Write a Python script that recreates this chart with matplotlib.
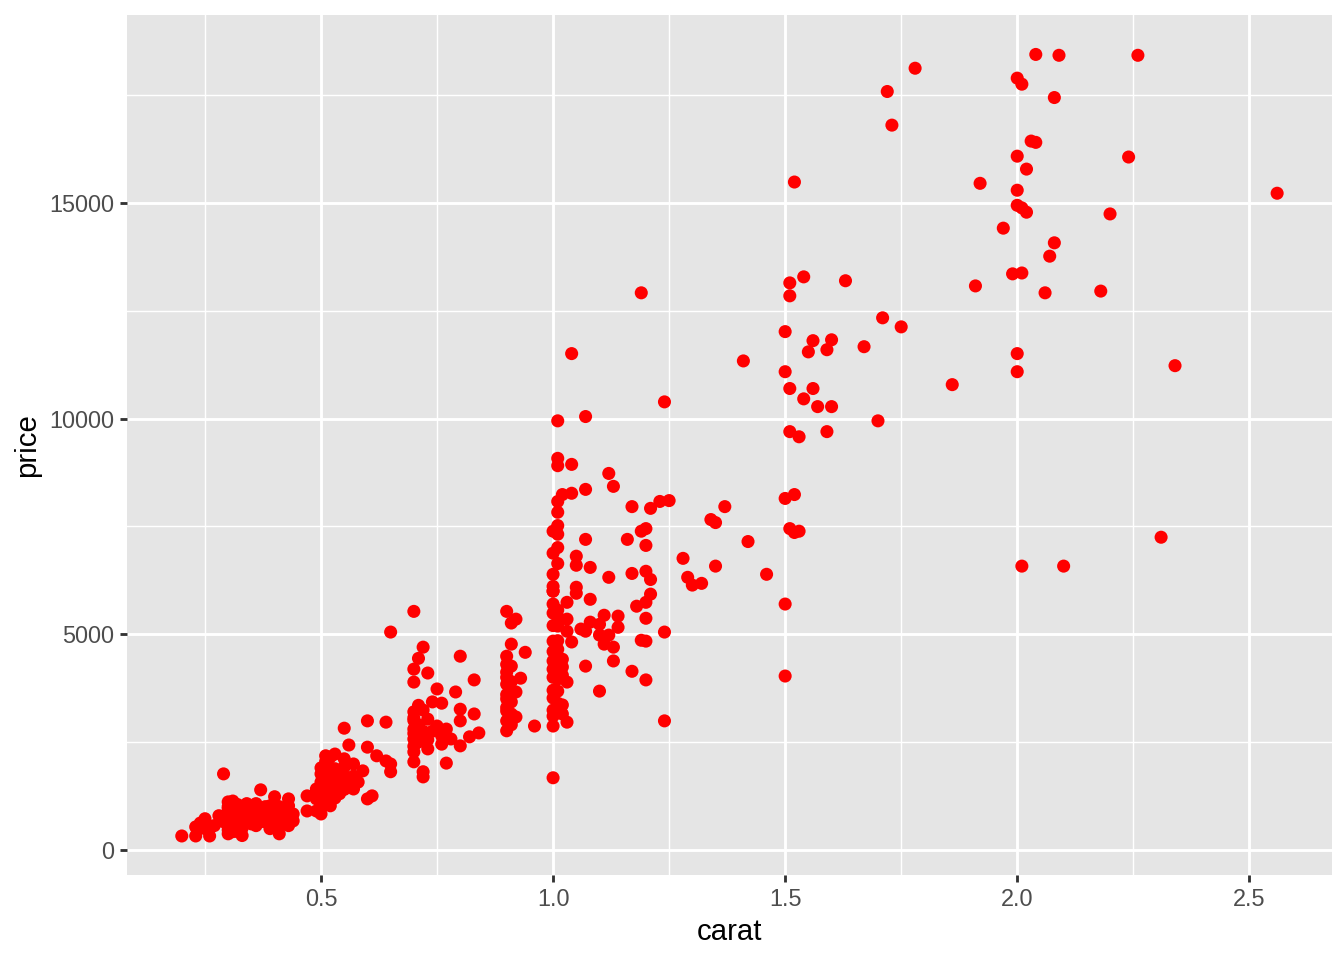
import numpy as np
import matplotlib
matplotlib.use("Agg")
import matplotlib.pyplot as plt

# carat / price values, grouped roughly by region
carat_top = [2.04, 2.09, 2.26, 1.78, 2.00, 2.01, 1.72, 2.08, 1.73, 2.03, 2.04, 2.00,
             2.24, 2.02, 1.52, 1.92, 2.56, 2.00, 2.00, 2.01, 2.02, 2.20, 1.97, 2.08,
             2.07, 1.91, 2.06, 2.18, 1.99, 2.01, 1.19, 2.00, 2.00, 2.34, 1.86, 1.24,
             1.04, 1.41, 1.70, 1.01, 1.07, 2.31, 2.01, 2.10, 1.50, 1.50]
price_top = [18450, 18430, 18430, 18130, 17900, 17760, 17590, 17450, 16810, 16440, 16410, 16090,
             16070, 15790, 15490, 15460, 15230, 15300, 14950, 14890, 14790, 14750, 14420, 14080,
             13770, 13080, 12920, 12960, 13360, 13380, 12920, 11510, 11090, 11230, 10790, 10390,
             11510, 11340, 9950, 9950, 10050, 7250, 6580, 6580, 4030, 5700]

carat_15 = [1.51, 1.54, 1.63, 1.51, 1.71, 1.75, 1.50, 1.56, 1.60, 1.55, 1.59, 1.67,
            1.50, 1.51, 1.56, 1.54, 1.57, 1.60, 1.51, 1.53, 1.59]
price_15 = [13150, 13290, 13200, 12850, 12340, 12130, 12020, 11810, 11830, 11550, 11600, 11670,
            11090, 10700, 10700, 10460, 10280, 10280, 9700, 9580, 9700]

carat_12 = [1.21, 1.23, 1.25, 1.37, 1.34, 1.35, 1.20, 1.20, 1.51, 1.52, 1.53, 1.50,
            1.52, 1.42, 1.28, 1.35, 1.46, 1.29, 1.30, 1.32, 1.20, 1.21, 1.21, 1.20,
            1.20, 1.24]
price_12 = [7920, 8080, 8100, 7960, 7660, 7590, 7450, 7060, 7450, 7360, 7390, 8150,
            8240, 7150, 6760, 6580, 6390, 6320, 6140, 6180, 6460, 6270, 5930, 5740,
            5370, 5050]

carat_10 = [1.01, 1.01, 1.04, 1.12, 1.13, 1.07, 1.01, 1.02, 1.04, 1.01, 1.17, 1.01,
            1.00, 1.01, 1.07, 1.16, 1.19, 1.01, 1.00, 1.01, 1.05, 1.05, 1.08, 1.00,
            1.00, 1.00, 1.05, 1.05, 1.08, 1.12, 1.17, 1.18, 1.03, 1.00, 1.01, 1.03,
            1.11, 1.14, 1.08, 1.06, 1.07, 1.10, 1.10, 1.14, 1.12, 1.03, 1.01, 1.00,
            1.01, 1.04, 1.11, 1.13, 1.11, 1.19, 1.20, 1.00, 1.02, 1.00, 1.02, 1.07,
            1.13, 1.17, 1.20, 1.01, 1.03, 1.01, 1.00, 1.02, 1.00, 1.02, 1.03, 1.10,
            0.96, 1.00, 1.24, 1.00, 0.94, 0.93,
            1.00, 1.00, 1.01, 1.00, 1.01, 1.00, 1.01, 1.02, 1.00, 1.00, 1.01, 1.00]
price_10 = [9080, 8910, 8940, 8730, 8430, 8360, 8080, 8240, 8270, 7830, 7960, 7520,
            7390, 7320, 7200, 7200, 7390, 7010, 6880, 6640, 6810, 6600, 6550, 6390,
            6110, 6000, 6090, 5950, 5810, 6320, 6410, 5650, 5740, 5490, 5560, 5350,
            5440, 5420, 5280, 5120, 5070, 5230, 4980, 5160, 4980, 5070, 5190, 4840,
            4650, 4820, 4770, 4700, 4930, 4860, 4840, 4380, 4420, 4190, 4240, 4260,
            4380, 4140, 3940, 3960, 3890, 3680, 3520, 3360, 3240, 3150, 2960, 3680,
            2870, 2870, 2990, 1670, 4580, 3980,
            5200, 4600, 4400, 4000, 4850, 3700, 3400, 4050, 3100, 5700, 5400, 6000]

carat_09 = [0.90, 0.91, 0.92, 0.91, 0.90, 0.91, 0.90, 0.90, 0.91, 0.92, 0.90, 0.91,
            0.90, 0.91, 0.92, 0.90, 0.90, 0.84,
            0.90, 0.90, 0.91, 0.90, 0.90, 0.91]
price_09 = [5530, 5260, 5350, 4770, 4490, 4260, 4120, 3840, 3680, 3660, 3500, 3430,
            3220, 3150, 3080, 2990, 2760, 2710,
            3600, 3300, 3900, 4300, 4000, 2900]

carat_07 = [0.70, 0.65, 0.72, 0.71, 0.70, 0.73, 0.70, 0.80, 0.83, 0.75, 0.79, 0.76,
            0.74, 0.72, 0.70, 0.80, 0.80, 0.83, 0.70, 0.73, 0.75, 0.77, 0.70, 0.72,
            0.76, 0.78, 0.80, 0.82, 0.70, 0.73, 0.76, 0.70, 0.77, 0.72, 0.72,
            0.70, 0.71, 0.70, 0.71, 0.72, 0.70, 0.71, 0.73, 0.70, 0.74]
price_07 = [5530, 5050, 4700, 4440, 4190, 4100, 3890, 4490, 3940, 3730, 3660, 3400,
            3430, 3240, 3060, 3260, 2990, 3150, 2800, 3030, 2870, 2800, 2570, 2640,
            2640, 2570, 2410, 2620, 2270, 2340, 2450, 2040, 2010, 1810, 1690,
            2700, 2900, 3200, 2500, 2750, 2400, 3350, 2550, 3000, 2750]

carat_05 = [0.55, 0.60, 0.64, 0.56, 0.60, 0.62, 0.64, 0.65, 0.65, 0.59, 0.51, 0.53,
            0.55, 0.57, 0.51, 0.53, 0.55, 0.50, 0.52, 0.55, 0.57, 0.50, 0.52, 0.54,
            0.57, 0.49, 0.52, 0.54, 0.47, 0.50, 0.52, 0.60, 0.61, 0.50, 0.47, 0.50,
            0.52, 0.58, 0.49, 0.49, 0.49,
            0.50, 0.51, 0.52, 0.51, 0.53, 0.54, 0.50, 0.51, 0.53, 0.55, 0.56, 0.51,
            0.52, 0.50]
price_05 = [2820, 2990, 2960, 2430, 2380, 2180, 2060, 1990, 1810, 1830, 2180, 2220,
            2110, 1990, 1950, 1880, 1920, 1760, 1710, 1710, 1710, 1570, 1480, 1530,
            1410, 1340, 1340, 1300, 1250, 1130, 1180, 1180, 1250, 1000, 900, 830,
            1020, 1570, 1410, 1180, 900,
            1300, 1600, 1900, 1250, 1560, 1750, 1450, 1050, 1200, 1400, 1600, 2050,
            2150, 1900]

carat_03 = [0.20, 0.29, 0.37, 0.23, 0.23, 0.25, 0.25, 0.26, 0.28, 0.30, 0.31, 0.30,
            0.30, 0.30, 0.30, 0.32, 0.32, 0.33, 0.34, 0.34, 0.34, 0.36, 0.36, 0.36,
            0.39, 0.39, 0.39, 0.40, 0.41, 0.41, 0.41, 0.41, 0.43, 0.43, 0.44, 0.44,
            0.43,
            0.31, 0.31, 0.32, 0.33, 0.33, 0.30, 0.31, 0.32, 0.35, 0.35, 0.37, 0.38,
            0.38, 0.40, 0.42, 0.27, 0.24, 0.26, 0.29, 0.30, 0.31, 0.32, 0.33, 0.34,
            0.36, 0.37, 0.30, 0.32,
            0.31, 0.32, 0.33, 0.34, 0.35, 0.31, 0.33, 0.35, 0.30, 0.32, 0.34, 0.36,
            0.38, 0.40, 0.42, 0.39]
price_03 = [320, 1760, 1390, 530, 320, 720, 490, 320, 790, 1110, 1130, 950,
            790, 600, 370, 790, 490, 330, 1070, 880, 650, 1070, 830, 560,
            1020, 720, 490, 1230, 1000, 790, 560, 370, 1180, 1020, 830, 670,
            560,
            650, 900, 1000, 700, 900, 1000, 420, 600, 950, 700, 900, 800,
            1000, 900, 700, 560, 620, 550, 650, 870, 780, 850, 600, 790,
            700, 650, 460, 420,
            1100, 1050, 1000, 950, 850, 550, 500, 600, 700, 740, 720, 850,
            650, 700, 850, 610]

carat = np.array(carat_top + carat_15 + carat_12 + carat_10 + carat_09 + carat_07 + carat_05 + carat_03)
price = np.array(price_top + price_15 + price_12 + price_10 + price_09 + price_07 + price_05 + price_03)

plt.rcParams['font.family'] = ['Liberation Sans', 'DejaVu Sans']

fig = plt.figure(figsize=(7, 5), dpi=192)
ax = fig.add_axes([0.0945, 0.0885, 0.8965, 0.8955])
ax.set_facecolor('#E5E5E5')

# ggplot-style 5% expansion
xr = carat.max() - carat.min()
yr = price.max() - price.min()
ax.set_xlim(carat.min() - 0.05 * xr, carat.max() + 0.05 * xr)
ax.set_ylim(price.min() - 0.05 * yr, price.max() + 0.05 * yr)

ax.set_xticks([0.5, 1.0, 1.5, 2.0, 2.5])
ax.set_xticklabels(['0.5', '1.0', '1.5', '2.0', '2.5'])
ax.set_xticks([0.25, 0.75, 1.25, 1.75, 2.25], minor=True)
ax.set_yticks([0, 5000, 10000, 15000])
ax.set_yticks([2500, 7500, 12500, 17500], minor=True)

ax.grid(which='major', color='white', linewidth=1.07)
ax.grid(which='minor', color='white', linewidth=0.53)
ax.set_axisbelow(True)
for s in ax.spines.values():
    s.set_visible(False)

ax.tick_params(which='major', length=2.75, width=1.07, color='#333333',
               labelcolor='#4D4D4D', labelsize=8.8, pad=2.2)
ax.tick_params(which='minor', length=0)

ax.scatter(carat, price, s=24, color='red', edgecolors='none', zorder=3)

ax.set_xlabel('carat', fontsize=11, color='black', labelpad=2.5)
ax.set_ylabel('price', fontsize=11, color='black', labelpad=3)

fig.savefig('out.png', dpi=192, facecolor='white')
